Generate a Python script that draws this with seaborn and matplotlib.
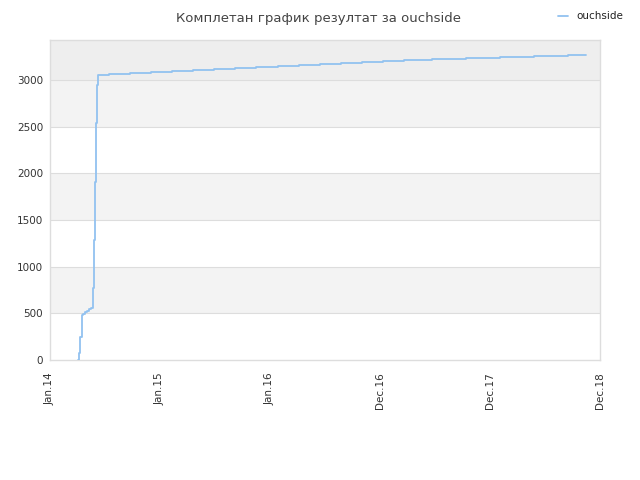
import pandas as pd
import matplotlib
matplotlib.use('Agg')
import matplotlib.pyplot as plt
import seaborn as sns

# Data (cumulative results over time)
dates = ['2014-04-05', '2014-04-08', '2014-04-11', '2014-04-16', '2014-04-22',
         '2014-04-28', '2014-05-04', '2014-05-10', '2014-05-16', '2014-05-23',
         '2014-05-25', '2014-05-27', '2014-05-30', '2014-06-02', '2014-06-05',
         '2014-06-09', '2014-07-17', '2014-09-23', '2014-12-02', '2015-02-10',
         '2015-04-20', '2015-06-29', '2015-09-07', '2015-11-16', '2016-01-27',
         '2016-04-06', '2016-06-15', '2016-08-24', '2016-11-01', '2017-01-11',
         '2017-03-21', '2017-06-22', '2017-10-12', '2018-02-02', '2018-05-27',
         '2018-09-17', '2018-11-13']
values = [0, 75, 250, 482, 497,
          513, 529, 545, 560, 571,
          771, 1286, 1910, 2539, 2946,
          3057, 3068, 3078, 3089, 3100,
          3111, 3121, 3132, 3143, 3153,
          3164, 3175, 3185, 3196, 3207,
          3218, 3228, 3240, 3250, 3261,
          3271, 3271]
series_name = 'ouchside'
tick_dates = ['2014-01-01', '2015-01-01', '2016-01-01', '2016-12-31', '2017-12-31', '2018-12-31']
tick_labels = ['Jan.14', 'Jan.15', 'Jan.16', 'Dec.16', 'Dec.17', 'Dec.18']
y_ticks = [0, 500, 1000, 1500, 2000, 2500, 3000]

df = pd.DataFrame({'date': pd.to_datetime(dates), 'value': values})

sns.set_style('white')
plt.rcParams['font.family'] = ['DejaVu Sans']

fig = plt.figure(figsize=(6.4, 4.8), dpi=100)
ax = fig.add_axes([50 / 640, 120 / 480, 550 / 640, 320 / 480])

# alternating bands
ax.axhspan(3000, 3430, color='#eeeeee', zorder=0, lw=0)
for lo in [500, 1500, 2500]:
    ax.axhspan(lo, lo + 500, color='#f3f3f3', zorder=0, lw=0)
for yv in y_ticks[1:]:
    ax.axhline(yv, color='#dddddd', lw=0.8, zorder=1)

sns.lineplot(data=df, x='date', y='value', drawstyle='steps-post', color='#92c2f0',
             linewidth=1.3, estimator=None, sort=False, label=series_name, ax=ax, zorder=3)

ax.set_xlim(pd.Timestamp('2014-01-01'), pd.Timestamp('2018-12-31'))
ax.set_ylim(0, 3430)
ax.set_xticks(pd.to_datetime(tick_dates))
ax.set_xticklabels(tick_labels, rotation=90, fontsize=7.5, color='#333333')
ax.set_yticks(y_ticks)
ax.set_yticklabels([str(v) for v in y_ticks], fontsize=7.5, color='#333333')
ax.tick_params(axis='y', length=0, pad=5)
ax.tick_params(axis='x', length=0, pad=9)
ax.set_xlabel('')
ax.set_ylabel('')
for sp in ax.spines.values():
    sp.set_color('#dddddd')
    sp.set_linewidth(1)

fig.text(0.497, 0.975, 'Комплетан график резултат за ouchside', ha='center', va='top',
         fontsize=9.5, color='#444444')
ax.legend(loc='upper right', bbox_to_anchor=(1.0 + 33 / 550, 1.0 + 38 / 320), frameon=False,
          fontsize=7.5, handlelength=1.0, handletextpad=0.8, labelcolor='#222222')

fig.savefig('out.png', dpi=100)
